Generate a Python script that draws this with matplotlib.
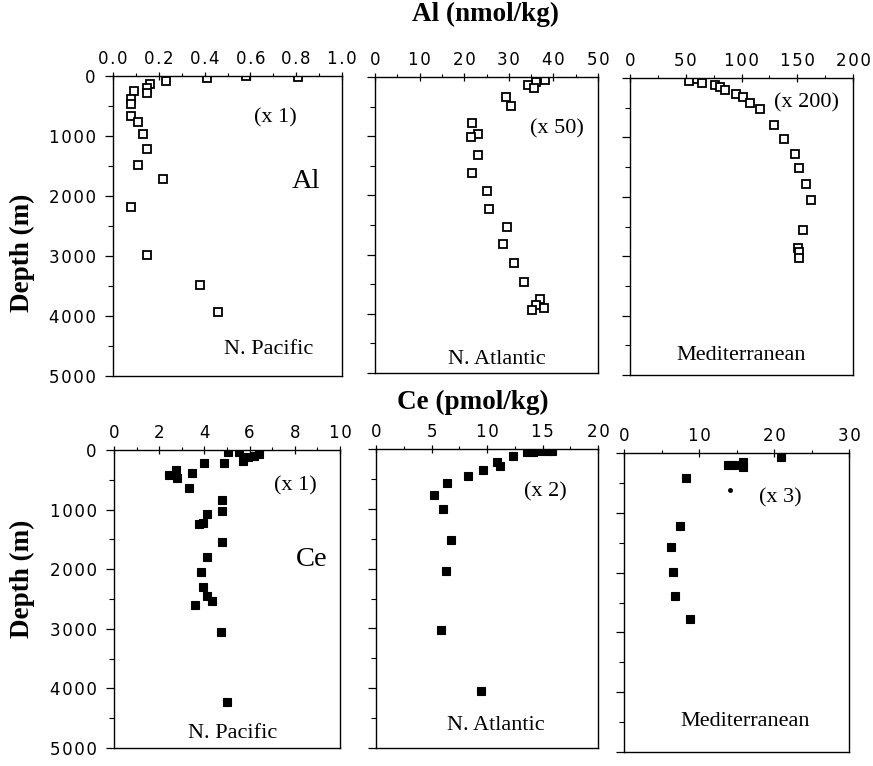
import matplotlib
matplotlib.use("Agg")
import matplotlib.pyplot as plt
from matplotlib.ticker import MultipleLocator

# ---------------- data ----------------
# Al (nmol/kg, multiplied by factor shown), depth (m)
al_pac_x = [0.81, 0.58, 0.41, 0.23, 0.16, 0.15, 0.15, 0.09, 0.08, 0.08, 0.08, 0.11, 0.13, 0.15, 0.11, 0.22, 0.08, 0.15, 0.38, 0.46]
al_pac_d = [10, 0, 40, 80, 135, 205, 275, 250, 375, 470, 670, 770, 965, 1215, 1480, 1720, 2185, 2990, 3490, 3925]

al_atl_x = [36.9, 38.2, 36.0, 34.2, 35.7, 29.4, 30.6, 21.7, 23.2, 21.6, 23.1, 21.7, 25.2, 25.5, 29.5, 28.8, 31.1, 33.3, 36.9, 36.0, 38.0, 35.1]
al_atl_d = [0, 45, 85, 130, 185, 337, 483, 775, 955, 1010, 1320, 1618, 1927, 2236, 2528, 2826, 3135, 3455, 3753, 3848, 3904, 3944]

al_med_x = [59, 53, 65, 76, 81, 85, 95, 101, 108, 117, 129, 138, 148, 152, 158, 162, 155, 151, 152, 152]
al_med_d = [10, 50, 85, 112, 151, 207, 275, 320, 420, 515, 785, 1020, 1272, 1513, 1788, 2057, 2560, 2870, 2937, 3038]

# Ce (pmol/kg, multiplied by factor shown), depth (m)
ce_pac_x = [5.03, 5.55, 5.70, 5.94, 6.20, 6.43, 4.88, 3.98, 2.73, 2.45, 2.80, 3.44, 3.33, 4.76, 4.76, 4.10, 3.92, 3.75, 4.76, 4.13, 3.85, 3.92, 4.13, 4.35, 3.57, 4.73, 4.99]
ce_pac_d = [28, 28, 184, 112, 100, 67, 212, 223, 335, 419, 464, 391, 642, 838, 1017, 1078, 1229, 1240, 1536, 1788, 2039, 2307, 2447, 2531, 2609, 3056, 4229]

ce_atl_x = [15.5, 15.9, 14.9, 14.1, 13.6, 12.3, 10.9, 11.2, 9.6, 8.3, 6.4, 5.2, 6.0, 6.8, 6.3, 5.9, 9.5]
ce_atl_d = [39, 39, 39, 56, 56, 112, 218, 279, 346, 447, 570, 776, 1006, 1520, 2034, 3028, 4045]

ce_med_x = [20.9, 15.8, 15.8, 13.8, 14.7, 8.2, 7.4, 6.3, 6.5, 6.8, 8.8]
ce_med_d = [67, 150, 240, 196, 196, 419, 1218, 1575, 1994, 2391, 2771]
ce_med_dot_x = [14.1]
ce_med_dot_d = [626]

depth_ticks = [0, 1000, 2000, 3000, 4000, 5000]

# ---------------- layout ----------------
W, H = 873, 766
fig = plt.figure(figsize=(W / 100, H / 100), dpi=100)

def frac(l, t, r, b):
    return [l / W, 1 - b / H, (r - l) / W, (b - t) / H]

serif = "Liberation Serif"
sans = "DejaVu Sans"
HS = "\u200a"

def spaced(s):
    return HS.join(s)

panels = [
    (frac(113, 76, 342, 376), 1.0, 0.2, 0.1, al_pac_x, al_pac_d, False, "{:.1f}"),
    (frac(375, 77, 598, 373), 50, 10, 5, al_atl_x, al_atl_d, False, "{:.0f}"),
    (frac(630, 78, 853, 375), 200, 50, 25, al_med_x, al_med_d, False, "{:.0f}"),
    (frac(114, 450, 340, 748), 10, 2, 1, ce_pac_x, ce_pac_d, True, "{:.0f}"),
    (frac(376, 449, 598, 748), 20, 5, 2.5, ce_atl_x, ce_atl_d, True, "{:.0f}"),
    (frac(624, 453, 849, 752), 30, 10, 5, ce_med_x, ce_med_d, True, "{:.0f}"),
]

axes = []
for i, (rect, xmax, maj, mnr, xs, ds, filled, fmt) in enumerate(panels):
    ax = fig.add_axes(rect)
    if filled:
        ax.plot(xs, ds, linestyle="none", marker="s", markersize=5.5,
                markerfacecolor="black", markeredgecolor="black", markeredgewidth=0.8)
    else:
        ax.plot(xs, ds, linestyle="none", marker="s", markersize=6,
                markerfacecolor="white", markeredgecolor="black", markeredgewidth=1.3)
    ax.set_xlim(0, xmax)
    ax.set_ylim(5000, 0)
    ax.xaxis.tick_top()
    ax.xaxis.set_minor_locator(MultipleLocator(mnr))
    ax.yaxis.set_minor_locator(MultipleLocator(500))
    ticks = [k * maj for k in range(int(round(xmax / maj)) + 1)]
    ax.set_xticks(ticks)
    ax.set_xticklabels([spaced(fmt.format(t)) for t in ticks], fontfamily=sans, fontsize=12)
    ax.set_yticks(depth_ticks)
    ax.tick_params(axis="x", which="major", direction="inout", length=6, width=0.9, pad=3)
    ax.tick_params(axis="x", which="minor", direction="out", length=2.5, width=0.8)
    ax.tick_params(axis="y", which="major", direction="out", length=5.5, width=0.9, pad=7)
    ax.tick_params(axis="y", which="minor", direction="out", length=3.5, width=0.8)
    if i in (0, 3):
        ax.set_yticklabels([spaced(str(d)) for d in depth_ticks], fontfamily=sans, fontsize=12)
    else:
        ax.set_yticklabels([])
    for s in ax.spines.values():
        s.set_linewidth(1.0)
    axes.append(ax)

axes[5].plot(ce_med_dot_x, ce_med_dot_d, linestyle="none", marker="o", markersize=2.5, color="black")

def ptext(x, y, s, size=16, **kw):
    fig.text(x / W, 1 - y / H, s, ha="center", va="center", fontfamily=serif, fontsize=size, **kw)

# titles
ptext(485, 14, "Al (nmol/kg)", size=19.5, fontweight="bold")
ptext(473, 402, "Ce (pmol/kg)", size=19.5, fontweight="bold")
ptext(22, 253, "Depth (m)", size=19.5, fontweight="bold", rotation=90)
ptext(22, 579, "Depth (m)", size=19.5, fontweight="bold", rotation=90)

# annotations
ptext(275, 118, "(x 1)")
ptext(306, 182, "Al", size=20.5)
ptext(269, 349, "N. Pacific")
ptext(557, 129, "(x 50)")
ptext(497, 359, "N. Atlantic")
ptext(806, 103, "(x 200)")
ptext(741, 356, "Mediterranean")

ptext(295, 486, "(x 1)")
ptext(312, 560, "Ce", size=20.5)
ptext(233, 733, "N. Pacific")
ptext(545, 492, "(x 2)")
ptext(496, 726, "N. Atlantic")
ptext(780, 498, "(x 3)")
ptext(745, 722, "Mediterranean")

fig.savefig("out.png", dpi=100)
